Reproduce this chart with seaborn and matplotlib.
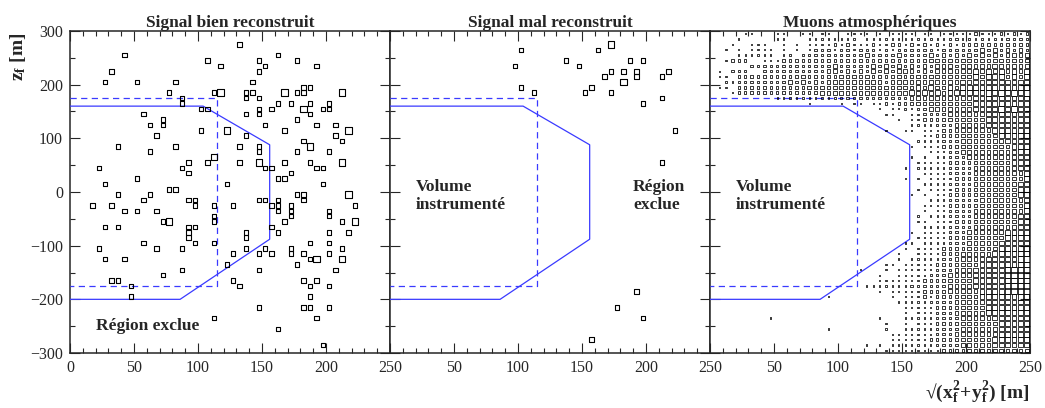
import numpy as np
import pandas as pd
import matplotlib
matplotlib.use("Agg")
import matplotlib.pyplot as plt
from matplotlib.ticker import MultipleLocator
import seaborn as sns

sns.set_style("ticks")
plt.rcParams["font.family"] = ["Liberation Serif", "DejaVu Serif"]
plt.rcParams["mathtext.fontset"] = "custom"
plt.rcParams["mathtext.rm"] = "Liberation Serif"
plt.rcParams["mathtext.it"] = "Liberation Serif:italic"
plt.rcParams["mathtext.bf"] = "Liberation Serif:bold"

# -----------------------------
# Data (bin centres: 5 m in r, 10 m in z), one entry per event
# -----------------------------
titles = ["Signal bien reconstruit", "Signal mal reconstruit", "Muons atmosphériques"]

bien_z = [275, 255, 255, 245, 245, 245, 235, 235, 235, 225, 225,
          205, 205, 205, 205, 195, 195,
          185, 185, 185, 185, 185, 185, 185, 185, 185, 185, 185, 185,
          175, 175, 175, 165, 165, 165, 165, 165,
          155, 155, 155, 155, 155, 155, 155, 155, 145, 145, 145, 145,
          135, 135, 125, 125, 125, 125, 125, 115, 115, 115, 115, 115, 115,
          105, 105, 105, 95, 95, 85, 85, 85, 85, 85, 85, 75, 75, 75, 75, 65, 65,
          55, 55, 55, 55, 55, 55, 55, 55, 55, 45, 45, 45, 45, 45, 45,
          35, 35, 25, 25, 25, 15, 15, 15, 5, 5,
          -5, -5, -5, -5, -5, -5, -15, -15, -15, -15, -15, -15, -15,
          -25, -25, -25, -25, -25, -25, -25, -25, -25,
          -35, -35, -35, -35, -35, -35, -45, -45, -45,
          -55, -55, -55, -55, -55, -55, -55, -55,
          -65, -65, -65, -65, -65, -75, -75, -75, -75, -75, -85, -85,
          -95, -95, -95, -95, -95, -105, -105, -105, -105, -105, -105, -105,
          -115, -115, -115, -115, -115, -115, -125, -125, -125, -125, -125, -125, -125,
          -135, -135, -145, -145, -145, -155, -165, -165, -165, -165, -165,
          -175, -175, -175, -175, -195, -195, -215, -215, -215, -215,
          -235, -235, -255, -285]
bien_r = [132.5, 42.5, 162.5, 107.5, 147.5, 177.5, 117.5, 152.5, 192.5, 32.5, 147.5,
          27.5, 52.5, 82.5, 142.5, 182.5, 187.5,
          77.5, 112.5, 117.5, 117.5, 137.5, 142.5, 167.5, 167.5, 177.5, 182.5, 212.5, 212.5,
          87.5, 137.5, 147.5, 87.5, 162.5, 172.5, 187.5, 202.5,
          102.5, 107.5, 147.5, 157.5, 182.5, 182.5, 197.5, 202.5, 57.5, 137.5, 147.5, 187.5,
          72.5, 177.5, 62.5, 72.5, 152.5, 192.5, 207.5, 102.5, 122.5, 122.5, 167.5, 217.5, 217.5,
          67.5, 137.5, 207.5, 182.5, 212.5, 37.5, 82.5, 132.5, 147.5, 187.5, 187.5, 62.5, 147.5, 177.5, 202.5, 112.5, 112.5,
          92.5, 107.5, 132.5, 147.5, 147.5, 167.5, 187.5, 212.5, 212.5, 22.5, 87.5, 152.5, 157.5, 192.5, 197.5,
          92.5, 172.5, 52.5, 162.5, 167.5, 27.5, 122.5, 197.5, 77.5, 82.5,
          37.5, 62.5, 177.5, 182.5, 217.5, 217.5, 57.5, 92.5, 97.5, 147.5, 152.5, 162.5, 182.5,
          17.5, 32.5, 97.5, 112.5, 127.5, 157.5, 162.5, 172.5, 222.5,
          42.5, 52.5, 67.5, 162.5, 172.5, 202.5, 112.5, 172.5, 202.5,
          72.5, 77.5, 77.5, 112.5, 167.5, 212.5, 222.5, 222.5,
          27.5, 37.5, 92.5, 97.5, 157.5, 92.5, 137.5, 162.5, 202.5, 217.5, 92.5, 137.5,
          57.5, 97.5, 112.5, 187.5, 202.5, 22.5, 67.5, 87.5, 137.5, 152.5, 172.5, 212.5,
          127.5, 147.5, 157.5, 172.5, 182.5, 202.5, 27.5, 42.5, 187.5, 192.5, 192.5, 212.5, 212.5,
          122.5, 177.5, 87.5, 147.5, 207.5, 72.5, 32.5, 37.5, 127.5, 182.5, 192.5,
          47.5, 132.5, 187.5, 202.5, 47.5, 187.5, 147.5, 182.5, 187.5, 202.5,
          112.5, 192.5, 162.5, 197.5]

mal_z = [275, 275, 265, 265, 245, 245, 245, 235, 235, 225, 225, 225, 225,
         215, 215, 215, 205, 205, 195, 195, 185, 185, 185, 175, 165, 115, 55,
         -185, -215, -235, -275]
mal_r = [172.5, 172.5, 102.5, 162.5, 137.5, 187.5, 197.5, 97.5, 147.5, 172.5, 182.5, 192.5, 217.5,
         167.5, 192.5, 212.5, 182.5, 182.5, 102.5, 157.5, 112.5, 152.5, 172.5, 212.5, 197.5, 222.5, 212.5,
         192.5, 177.5, 197.5, 157.5]

# muons: box level per bin, rows from z=295 down to z=-295, columns r=2.5..247.5
muon_rows = [
    "0000011000 1100110110 0111101011 1101101111 1211121212",
    "0000100000 1100011111 1110111111 1111211121 2121212222",
    "0001001110 0101011112 1211121122 1212121212 2222222232",
    "0010101111 0101012221 2212221212 2222212222 2232323232",
    "0000111111 0110222222 2222322223 2222323232 3232323333",
    "0012220011 1222222222 2223222232 2322332323 3332333333",
    "0000002222 2212222223 2222232323 2323233323 3333433333",
    "0102220022 2222222233 2323232323 3323233333 3434343434",
    "0110222222 2222322232 3232323233 2333333333 3434443434",
    "0011222222 2232323233 3333333233 3333333334 3444444444",
    "0110222222 2323233333 3333333333 3343433434 4444444444",
    "0001222222 2222222333 3333333333 3434343444 4445454545",
    "0000000000 1111211212 2222222222 2333333333 3444444444",
    "0000000000 0000010000 1011011212 2233333333 3444444444",
    "0000000000 0000000000 0000001011 2122333333 3444454544",
    "0000000000 0000000000 0000000110 0112222333 3344444444",
    "0000000000 0000000000 0000000001 0112222333 3334444444",
    "0000000000 0000000000 0000000000 0111122233 3334444444",
    "0000000000 0000000000 0000000100 1101112233 3333444444",
    "0000000000 0000000000 0000000000 0001122223 3333344444",
    "0000000000 0000000000 0000000000 0011112223 3333334444",
    "0000000000 0000000000 0000000000 0101112233 3333333444",
    "0000000000 0000000000 0000000000 0000111223 3333333344",
    "0000000000 0000000000 0000000000 0101011122 3333333344",
    "0000000000 0000000000 0000000000 0011111222 2333333444",
    "0000000000 0000000000 0000000000 1011111222 2333333344",
    "0000000000 0000000000 0000000000 0001111222 2333333334",
    "0000000000 0000000000 0000000000 1010111122 2333333334",
    "0000000000 0000000000 0000000000 0001111222 2333333344",
    "0000000000 0000000000 0000000000 0010111122 2233333344",
    "0000000000 0000000000 0000000000 0101011222 2333333344",
    "0000000000 0000000000 0000000000 0000111122 2233333334",
    "0000000000 0000000000 0000000000 0001111222 2233333334",
    "0000000000 0000000000 0000000000 0001011222 2333333334",
    "0000000000 0000000000 0000000000 0010111222 2333333344",
    "0000000000 0000000000 0000000000 0011011122 2333333344",
    "0000000000 0000000000 0000000000 0001111222 2333333444",
    "0000000000 0000000000 0000000000 0101111222 3333334444",
    "0000000000 0000000000 0000000000 0011111222 3333334444",
    "0000000000 0000000000 0000000000 1101111222 3333344444",
    "0000000000 0000000000 0000000000 1011112222 3333344444",
    "0000000000 0000000000 0000000001 0011112223 3333444444",
    "0000000000 0000000000 0000000001 0111112233 3334444455",
    "0000000000 0000000000 0000000110 1111122233 3344444455",
    "0000000000 0000000000 0001000101 1111122233 3444445555",
    "0000000000 0000000000 0000001001 1111222333 3444445555",
    "0000000000 0000000000 0000001111 1112222333 3444445555",
    "0000000000 0000000000 0000111111 1212222333 3444445555",
    "0000000000 0000000000 0000001011 1112222333 3344445555",
    "0000000000 0000000010 0000000010 1112122233 3344444454",
    "0000000000 0000000000 0000000001 1111222233 3344444444",
    "0000000000 0000000000 0000000000 1111122233 3334444444",
    "0000000000 0000000000 0000000000 1011122233 3334444444",
    "0000000001 0000000000 0000001000 1111122223 3333444444",
    "0000000000 0000000000 0000000100 1011122223 3333344444",
    "0000000000 0000000010 0000000100 1111122223 3333344444",
    "0000000000 0000000000 0000000011 1111122233 3333344444",
    "0000000000 0000000000 0000000011 1111222233 3333444444",
    "0000000000 0000000000 0000101011 1111122223 3333444444",
    "0000000000 0000000000 0000000111 1111112222 3333333333",
]

# fiducial volume outline (solid) and cut box (dashed)
volume_r = [0, 104, 156, 156, 86, 0]
volume_z = [160, 160, 88, -88, -200, -200]
cut_r = [0, 115, 115, 0]
cut_z = [175, 175, -175, -175]

# -----------------------------
# Build tables
# -----------------------------
def count_bins(r, z):
    df = pd.DataFrame({"r": r, "z": z})
    return df.groupby(["r", "z"]).size().reset_index(name="n")

bien = count_bins(bien_r, bien_z)
mal = count_bins(mal_r, mal_z)

recs = []
for i, row in enumerate(muon_rows):
    cells = row.replace(" ", "")
    zc = 295 - 10 * i
    for j, c in enumerate(cells):
        if c != "0":
            recs.append((2.5 + 5 * j, zc, int(c)))
muons = pd.DataFrame(recs, columns=["r", "z", "n"])

# -----------------------------
# Figure
# -----------------------------
fig = plt.figure(figsize=(10.45, 4.08), dpi=100)
W, H = 1045, 408
axes = [fig.add_axes([x / W, 55 / H, 320 / W, 322 / H]) for x in (70, 390, 710)]

blue = "#3a3aff"
for k, ax in enumerate(axes):
    ax.plot(volume_r, volume_z, color=blue, lw=0.9, zorder=3)
    ax.plot(cut_r, cut_z, color=blue, lw=0.9, ls=(0, (5, 3.5)), zorder=3)

box_sizes = {1: 10.5, 2: 22}
sns.scatterplot(data=bien, x="r", y="z", size="n", sizes=box_sizes,
                marker="s", facecolor="none", edgecolor="black", linewidth=0.8,
                legend=False, ax=axes[0], zorder=4)
sns.scatterplot(data=mal, x="r", y="z", size="n", sizes=box_sizes,
                marker="s", facecolor="none", edgecolor="black", linewidth=0.8,
                legend=False, ax=axes[1], zorder=4)
sns.scatterplot(data=muons, x="r", y="z", size="n",
                sizes={1: 0.9, 2: 3.2, 3: 6.8, 4: 11, 5: 17},
                marker="s", facecolor="none", edgecolor="black", linewidth=0.55,
                legend=False, ax=axes[2], zorder=4)

for k, ax in enumerate(axes):
    ax.set_xlim(0, 250)
    ax.set_ylim(-300, 300)
    ax.set_xlabel("")
    ax.set_ylabel("")
    ax.xaxis.set_major_locator(MultipleLocator(50))
    ax.xaxis.set_minor_locator(MultipleLocator(10))
    ax.yaxis.set_major_locator(MultipleLocator(100))
    ax.yaxis.set_minor_locator(MultipleLocator(50))
    ax.tick_params(which="both", direction="in", top=True, right=True,
                   width=0.8, labelsize=11.5, pad=5)
    ax.tick_params(which="major", length=7)
    ax.tick_params(which="minor", length=3.5)
    for sp in ax.spines.values():
        sp.set_linewidth(1.1)
    ax.set_title(titles[k], fontsize=12.5, fontweight="bold", pad=3)
    xt = [0, 50, 100, 150, 200, 250]
    ax.set_xticks(xt)
    ax.set_xticklabels([str(v) if (k == 0 or v > 0) else "" for v in xt])
    if k > 0:
        ax.set_yticklabels([])

axes[0].text(20, -250, "Région exclue", fontsize=12.5, fontweight="bold", va="center")
axes[1].text(20, -8, "Volume\ninstrumenté", fontsize=12.5, fontweight="bold", va="center")
axes[1].text(190, -8, "Région\nexclue", fontsize=12.5, fontweight="bold", va="center")
axes[2].text(20, -8, "Volume\ninstrumenté", fontsize=12.5, fontweight="bold", va="center")

fig.text(18 / W, 1 - 57 / H, r"$\mathbf{z_f}$ [m]", rotation=90, fontsize=14,
         fontweight="bold", ha="center", va="center")
fig.text(1030 / W, 1 - 392 / H, "\u221a" + r"$\mathbf{(x_f^2\!+\!y_f^2)}$ [m]", fontsize=14,
         fontweight="bold", ha="right", va="center")

fig.savefig("out.png", dpi=100)
